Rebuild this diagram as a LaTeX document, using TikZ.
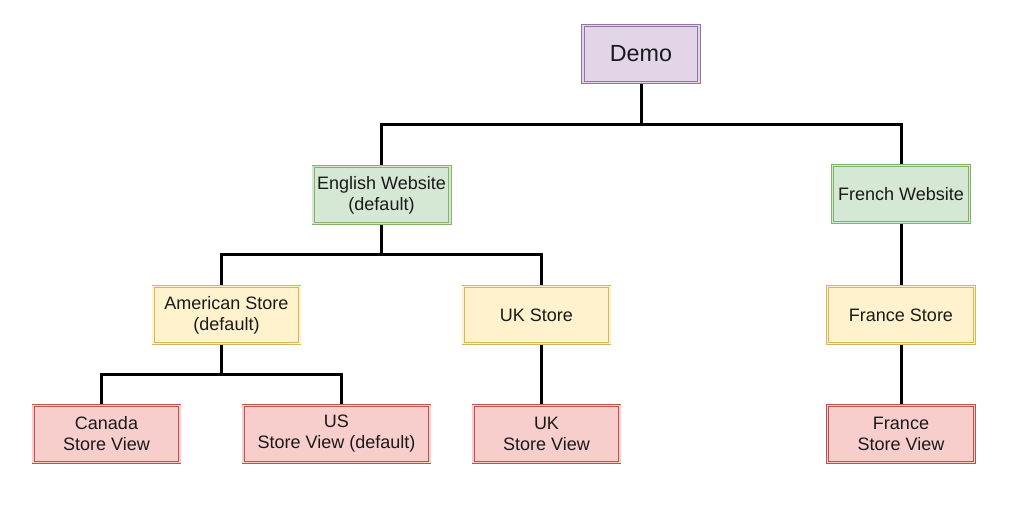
\documentclass[tikz,border=0pt]{standalone}
\usepackage{fontspec}
\setmainfont{Liberation Sans}
\usetikzlibrary{positioning, calc, backgrounds}
\definecolor{rootfill}{HTML}{E1D5E7}
\definecolor{rootline}{HTML}{9673A6}
\definecolor{sitefill}{HTML}{D5E8D4}
\definecolor{siteline}{HTML}{82B366}
\definecolor{storefill}{HTML}{FFF2CC}
\definecolor{storeline}{HTML}{D6B656}
\definecolor{viewfill}{HTML}{F8CECC}
\definecolor{viewline}{HTML}{B85450}
\definecolor{txt}{HTML}{1A1A1A}

\begin{document}
\begin{tikzpicture}[
    x=0.75pt, y=-0.75pt,
    every node/.style={font=\fontsize{13.5}{15.75}\selectfont, text=txt},
    box/.style={rectangle, line width=0.6pt, double distance=1.2pt,
                minimum width=110pt, minimum height=42.6pt, align=center, inner sep=2pt},
    root/.style={box, draw=rootline, double=rootfill, fill=rootfill,
                 minimum width=87pt, font=\fontsize{17.5}{20}\selectfont},
    site/.style={box, draw=siteline, double=sitefill, fill=sitefill, minimum width=102.6pt},
    store/.style={box, draw=storeline, double=storefill, fill=storefill},
    view/.style={box, draw=viewline, double=viewfill, fill=viewfill},
    link/.style={line width=2.25pt, black}
]
    \useasboundingbox (0,0) rectangle (1022,514);

    \node[root] (demo) at (641,54) {Demo};
    \node[site] (eng) at (381.5,195) {English Website\\(default)};
    \node[site] (fr) at (901,194) {French Website};
    \node[store] (amer) at (226.5,315) {American Store\\(default)};
    \node[store] (ukst) at (536.5,315) {UK Store};
    \node[store] (frst) at (901,315) {France Store};
    \node[view] (canada) at (106.5,434) {Canada\\ Store View};
    \node[view, minimum width=140pt] (us) at (336.5,434) {US\\ Store View (default)};
    \node[view] (ukview) at (546.5,434) {UK\\ Store View};
    \node[view] (frview) at (901,434) {France\\ Store View};

    \begin{scope}[on background layer]
        \draw[link] (demo.south) -- ++(0,42) -| (eng.north);
        \draw[link] (demo.south) -- ++(0,42) -| (fr.north);
        \draw[link] (eng.south) -- ++(0,31) -| ([xshift=-4.1pt]amer.north);
        \draw[link] (eng.south) -- ++(0,31) -| ([xshift=3.4pt]ukst.north);
        \draw[link] ([xshift=-4.1pt]amer.south) -- ++(0,31) -| ([xshift=-4.1pt]canada.north);
        \draw[link] ([xshift=-4.1pt]amer.south) -- ++(0,31) -| ([xshift=3.4pt]us.north);
        \draw[link] ([xshift=3.4pt]ukst.south) -- ([xshift=-4.1pt]ukview.north);
        \draw[link] (fr.south) -- (frst.north);
        \draw[link] (frst.south) -- (frview.north);
    \end{scope}
\end{tikzpicture}
\end{document}
